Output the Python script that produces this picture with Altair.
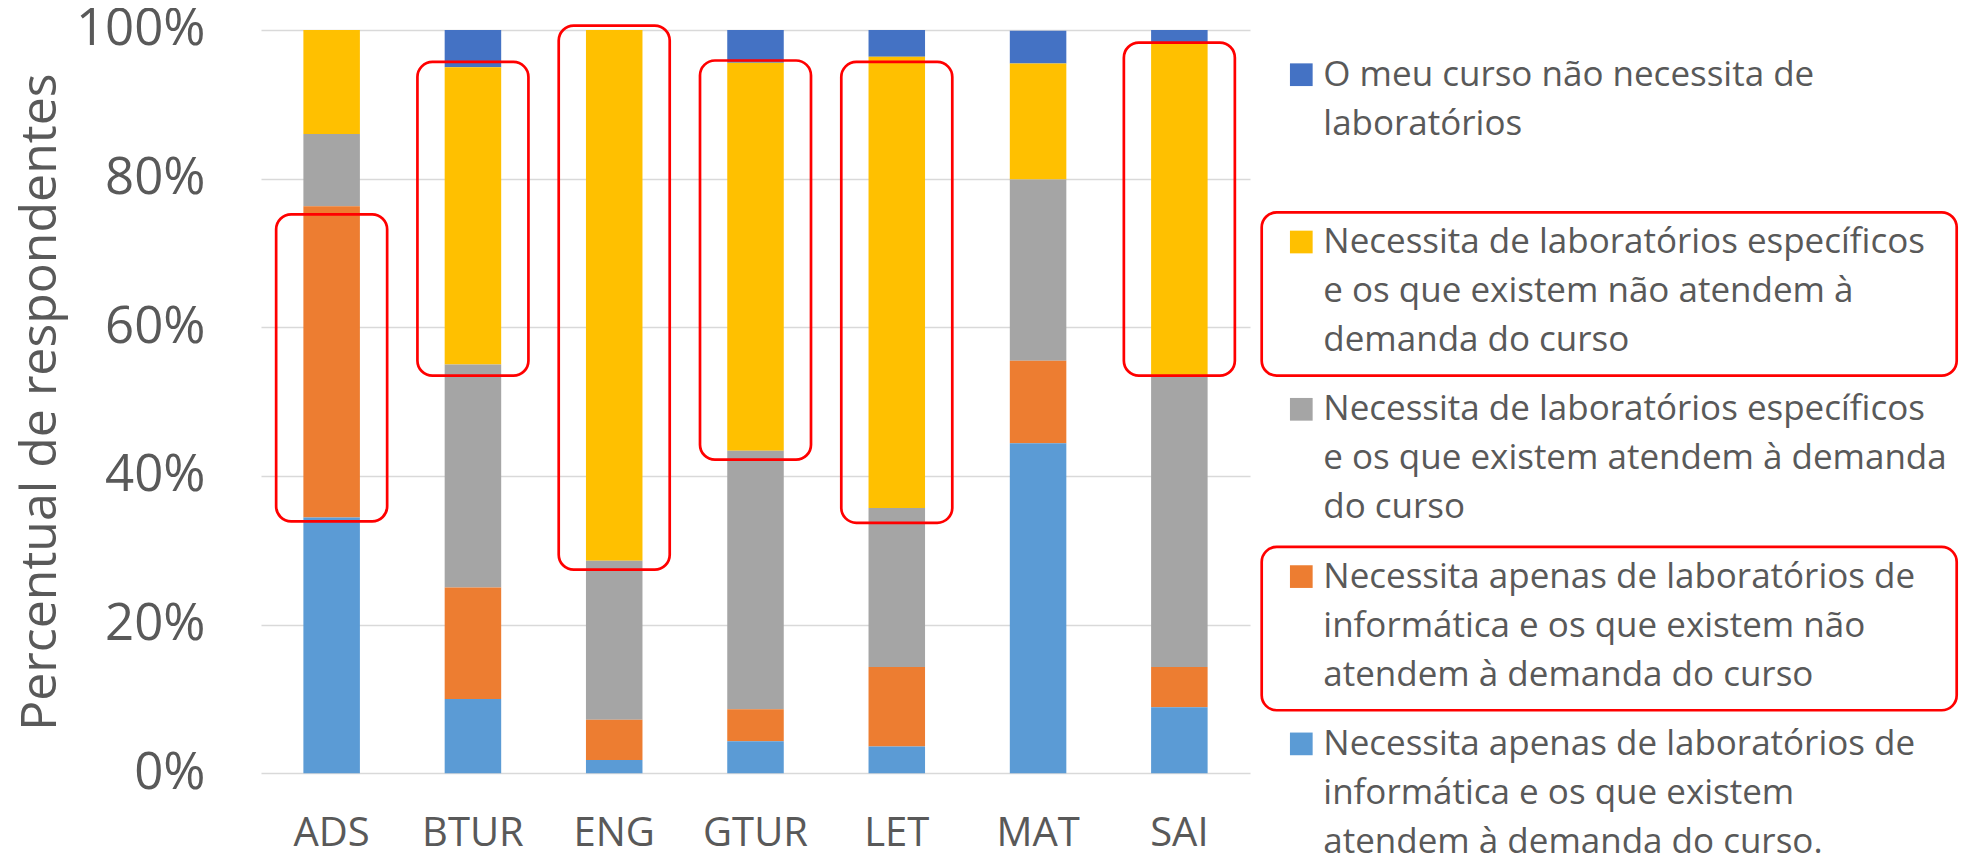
import altair as alt
import pandas as pd

# ---------------- data ----------------
courses = ["ADS", "BTUR", "ENG", "GTUR", "LET", "MAT", "SAI"]

series = [
    "O meu curso não necessita de\nlaboratórios",
    "Necessita de laboratórios específicos\ne os que existem não atendem à\ndemanda do curso",
    "Necessita de laboratórios específicos\ne os que existem atendem à demanda\ndo curso",
    "Necessita apenas de laboratórios de\ninformática e os que existem não\natendem à demanda do curso",
    "Necessita apenas de laboratórios de\ninformática e os que existem\natendem à demanda do curso.",
]
colors = ["#4472C4", "#FFC000", "#A5A5A5", "#ED7D31", "#5B9BD5"]
stack_order = [4, 3, 2, 1, 0]  # 0 = bottom of the stack

# percent of respondents, one list per series, in course order
no_lab = [0.0, 5.0, 0.0, 4.4, 3.6, 4.4, 1.8]
spec_not_ok = [14.0, 40.0, 71.4, 52.2, 60.7, 15.6, 44.6]
spec_ok = [9.7, 30.0, 21.4, 34.8, 21.4, 24.4, 39.3]
info_not_ok = [41.9, 15.0, 5.4, 4.3, 10.7, 11.1, 5.4]
info_ok = [34.4, 10.0, 1.8, 4.3, 3.6, 44.4, 8.9]
values = [no_lab, spec_not_ok, spec_ok, info_not_ok, info_ok]

# red highlight boxes around bar segments (percent)
box_courses = ["ADS", "BTUR", "ENG", "GTUR", "LET", "SAI"]
box_top = [75.2, 95.7, 100.6, 95.9, 95.7, 98.3]
box_bottom = [33.9, 53.5, 27.4, 42.2, 33.7, 53.5]

# highlighted legend entries
legend_highlight = [False, True, False, True, False]

y_ticks = [0, 0.2, 0.4, 0.6, 0.8, 1.0]

# ---------------- tables ----------------
rows = []
for s, vals, so in zip(series, values, stack_order):
    for c, v in zip(courses, vals):
        rows.append({"course": c, "series": s, "value": v / 100.0, "stackpos": so})
df = pd.DataFrame(rows)

boxdf = pd.DataFrame({
    "course": box_courses,
    "top": [t / 100.0 for t in box_top],
    "bottom": [b / 100.0 for b in box_bottom],
})

legdf = pd.DataFrame({
    "series": series,
    "i": list(range(len(series))),
    "hl": legend_highlight,
})

FONT = "Open Sans"
TXT = "#595959"

color = alt.Color("series:N", scale=alt.Scale(domain=series, range=colors), legend=None)
xenc = alt.X(
    "course:N", sort=courses,
    scale=alt.Scale(paddingInner=0.6, paddingOuter=0.3),
    axis=alt.Axis(title=None, labelAngle=0, labelFontSize=40, labelColor=TXT,
                  labelFont=FONT, labelPadding=40, domain=False, ticks=False),
)
yscale = alt.Scale(domain=[0, 1], nice=False)

bars = alt.Chart(df).mark_bar().encode(
    x=xenc,
    y=alt.Y("value:Q", stack="zero", scale=yscale,
            axis=alt.Axis(format="%", values=y_ticks, grid=True, gridColor="#D9D9D9",
                          gridWidth=1.3, domain=False, ticks=False, tickSize=0,
                          labelFontSize=51, labelColor=TXT, labelFont=FONT,
                          labelPadding=56,
                          title="Percentual de respondentes", titleFontSize=50,
                          titleFont=FONT, titleColor=TXT, titleFontWeight="normal",
                          titleAngle=270, titleX=-206, titleY=371.65,
                          titleAlign="center", titleBaseline="alphabetic")),
    color=color,
    order=alt.Order("stackpos:Q"),
)

barboxes = alt.Chart(boxdf).mark_bar(
    size=111, fillOpacity=0, stroke="#FF0000", strokeWidth=2.7, cornerRadius=15
).encode(
    x=alt.X("course:N", sort=courses),
    y=alt.Y("top:Q", scale=yscale, axis=None),
    y2="bottom:Q",
)

legscale = alt.Scale(domain=[-0.333, 4.110], reverse=True, nice=False, zero=False)

squares = alt.Chart(legdf).mark_square(size=515, opacity=1, yOffset=-11).encode(
    x=alt.value(1040.3),
    y=alt.Y("i:Q", scale=legscale, axis=None),
    color=color,
)

texts = alt.Chart(legdf).mark_text(
    align="left", baseline="alphabetic", lineBreak="\n", lineHeight=49,
    fontSize=35, font=FONT, color=TXT,
).encode(
    x=alt.value(1062.3),
    y=alt.Y("i:Q", scale=legscale, axis=None),
    text="series:N",
)

legboxes = alt.Chart(legdf).transform_filter("datum.hl").transform_calculate(
    btop="datum.i - 0.243", bbot="datum.i + 0.733"
).mark_rect(
    fillOpacity=0, stroke="#FF0000", strokeWidth=2.7, cornerRadius=15
).encode(
    x=alt.value(1000.7), x2=alt.value(1695.7),
    y=alt.Y("btop:Q", scale=legscale, axis=None),
    y2="bbot:Q",
)

chart = alt.layer(bars, barboxes, squares, texts, legboxes).resolve_scale(
    y="independent"
).properties(
    width=989, height=743.3,
    padding={"left": 253, "top": 22, "right": 711, "bottom": 86},
    autosize=alt.AutoSizeParams(type="none"),
).configure_view(stroke=None)

chart.save("out.html", embed_options={"renderer": "svg", "actions": False})
